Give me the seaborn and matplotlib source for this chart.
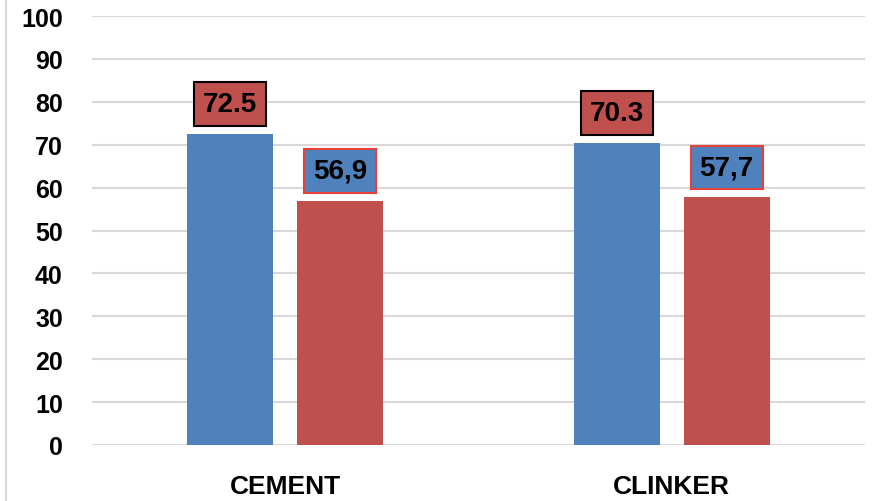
import matplotlib
matplotlib.use("Agg")
import matplotlib.pyplot as plt
import seaborn as sns
import pandas as pd
from matplotlib.lines import Line2D

categories = ["CEMENT", "CLINKER"]
series_names = ["A", "B"]
values_a = [72.5, 70.3]
values_b = [56.9, 57.7]
labels_a = ["72.5", "70.3"]
labels_b = ["56,9", "57,7"]
yticks = [0, 10, 20, 30, 40, 50, 60, 70, 80, 90, 100]

blue = "#4F81BD"
red = "#C0504D"

rows = []
for c, v in zip(categories, values_a):
    rows.append({"cat": c, "series": series_names[0], "val": v})
for c, v in zip(categories, values_b):
    rows.append({"cat": c, "series": series_names[1], "val": v})
df = pd.DataFrame(rows)

sns.set_style("white")
plt.rcParams['font.family'] = ['Liberation Sans', 'DejaVu Sans']

fig = plt.figure(figsize=(8.79, 5.02), dpi=100)
ax = fig.add_axes([92/879, 1-446/502, (865-92)/879, (446-17)/502])

sns.barplot(data=df, x="cat", y="val", hue="series", order=categories,
            hue_order=series_names, palette=[blue, red], width=0.569, gap=0.218,
            dodge=True, legend=False, ax=ax, saturation=1, linewidth=0, zorder=3)

ax.set_ylim(0, 100)
ax.set_xlim(-0.5, 1.5)
ax.set_yticks(yticks)
ax.set_yticklabels([str(t) for t in yticks], fontsize=18, fontweight='bold', color='black')
ax.set_xticklabels(categories, fontsize=19, fontweight='bold', color='black')
ax.tick_params(axis='y', length=0, pad=21)
ax.tick_params(axis='x', length=0, pad=21)
ax.set_xlabel("")
ax.set_ylabel("")
for s in ax.spines.values():
    s.set_visible(False)
ax.yaxis.grid(True, color="#D9D9D9", linewidth=1.5, zorder=0)
ax.set_axisbelow(True)

offsets = [-0.1423, 0.1423]
for i in range(len(categories)):
    ax.text(i + offsets[0], values_a[i] + 7, labels_a[i], ha='center', va='center',
            fontsize=20, fontweight='bold', color='black', zorder=5,
            bbox=dict(boxstyle='square,pad=0.32', facecolor=red, edgecolor='black', linewidth=1.5))
    ax.text(i + offsets[1], values_b[i] + 7, labels_b[i], ha='center', va='center',
            fontsize=20, fontweight='bold', color='black', zorder=5,
            bbox=dict(boxstyle='square,pad=0.32', facecolor=blue, edgecolor='#E8403A', linewidth=1.5))

fig.add_artist(Line2D([6.5/879, 6.5/879], [0, 1], transform=fig.transFigure,
                      color="#D9D9D9", linewidth=1.5))

fig.savefig("out.png", dpi=100)
